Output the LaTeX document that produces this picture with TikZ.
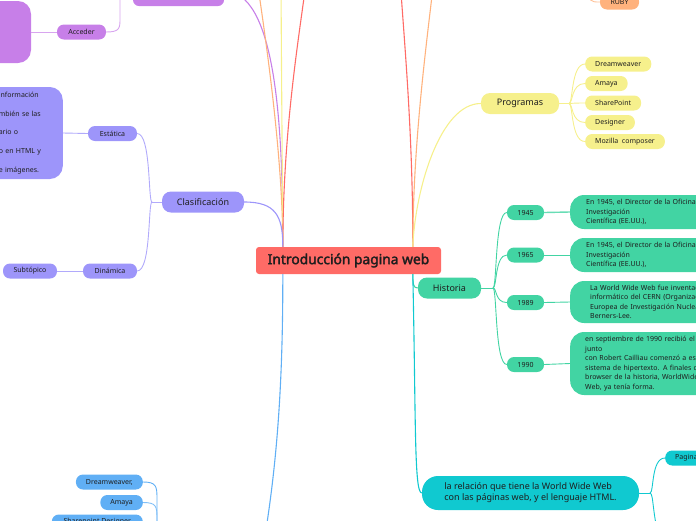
\documentclass[tikz,border=0pt]{standalone}
\usepackage{fontspec}
\setmainfont{Noto Sans}[AutoFakeBold=2.2]
\usetikzlibrary{calc}
\definecolor{cred}{HTML}{FF6B66}
\definecolor{cpur}{HTML}{C77FE8}
\definecolor{cper}{HTML}{9D95FA}
\definecolor{cyel}{HTML}{F6F08C}
\definecolor{cora}{HTML}{FFB27D}
\definecolor{cmint}{HTML}{42D4A3}
\definecolor{ccyan}{HTML}{10C9D0}
\definecolor{cblue}{HTML}{60AFF5}
\definecolor{ctxt}{HTML}{1E1E1E}
\tikzset{
  pill/.style={rounded corners=7pt, minimum height=15pt, inner xsep=10pt, inner ysep=0pt, text=ctxt, font=\fontsize{7}{8}\selectfont},
  bigpill/.style={rounded corners=9pt, minimum height=21pt, inner ysep=0pt, text=ctxt, font=\fontsize{9}{11}\selectfont},
  desc/.style={rounded corners=14pt, anchor=west, inner xsep=16pt, inner ysep=0pt, align=left, text width=200pt, text=ctxt, font=\fontsize{7}{9.5}\selectfont},
  conn/.style={line width=1.1pt},
  sub/.style={line width=0.9pt}
}
\begin{document}
\begin{tikzpicture}[x=1pt,y=-1pt]
\useasboundingbox (0,0) rectangle (696,520);
\clip (0,0) rectangle (696,520);

% central node
\node[fill=cred, rounded corners=3pt, minimum width=185pt, minimum height=27pt, inner sep=0pt,
      font=\fontsize{13.8}{15}\selectfont\bfseries, text=ctxt] (c) at (348.5,260.5) {Introducción pagina web};
\coordinate (ctl) at ($(c.north west)+(27,0)$);
\coordinate (ctr) at ($(c.north west)+(157,0)$);
\coordinate (cbl) at ($(c.south west)+(27,0)$);
\coordinate (cbr) at ($(c.south west)+(157,0)$);

% off-picture ends
\coordinate (oora) at (254,-40);
\coordinate (oyel) at (281,-40);
\coordinate (ored) at (309,-40);
\coordinate (ored2) at (399,-40);
\coordinate (oora2) at (436,-40);
\coordinate (oruby) at (585,-14);
\coordinate (oacc) at (120,-20);
\coordinate (oblue) at (261,560);
\coordinate (bbr) at (157,560);
\coordinate (orel) at (662,545);

% ---------- top left purple ----------
\node[fill=cpur, rounded corners=6pt, minimum width=91pt, minimum height=30pt, inner sep=0pt] (ptop) at (178.5,-9) {};
\node[fill=cpur, rounded corners=13pt, minimum width=70pt, minimum height=62pt, inner sep=0pt] (pbig) at (-4,32) {};
\node[pill, fill=cpur, minimum width=49pt, inner xsep=0pt] (acc) at (81.5,32) {Acceder};
\draw[cpur!70, sub] (pbig.east) -- (acc.west);
\draw[cpur!70, sub] (acc.east) .. controls (120,32) and (120,28) .. (120,18) -- (oacc);
\draw[cpur, conn] (ptop.east) .. controls (275,-9) and (283,120) .. (ctl);

% other top lines
\draw[cora, conn] (ctl) .. controls (283,150) and (263,20) .. (oora);
\draw[cyel, conn] (ctl) .. controls (282,120) and (281,20) .. (oyel);
\draw[cred, conn] (ctl) .. controls (283,120) and (302,20) .. (ored);
\draw[cred, conn] (ctr) .. controls (413,120) and (402,20) .. (ored2);
\draw[cora, conn] (ctr) .. controls (413,130) and (430,20) .. (oora2);

% ---------- RUBY ----------
\node[pill, fill=cora, minimum width=39pt, inner xsep=0pt] (ruby) at (619.5,2) {RUBY};
\draw[cora!80, sub] (oruby) .. controls (590,2) .. (ruby.west);

% ---------- Programas ----------
\node[bigpill, fill=cyel, minimum width=78pt] (prog) at (520,103.5) {Programas};
\draw[cyel, conn] (ctr) .. controls (415,190) and (440,103.5) .. (prog.west);
\coordinate (pb) at (569,103.5);
\node[pill, fill=cyel, anchor=west] (y1) at (585,64) {Dreamweaver};
\node[pill, fill=cyel, anchor=west] (y2) at (585,83.5) {Amaya};
\node[pill, fill=cyel, anchor=west] (y3) at (585,103) {SharePoint};
\node[pill, fill=cyel, anchor=west] (y4) at (585,122.5) {Designer};
\node[pill, fill=cyel, anchor=west] (y5) at (585,141.5) {Mozilla\ \ composer};
\draw[cyel, sub] (prog.east) -- (pb);
\foreach \n in {y1,y2,y3,y4,y5}{
  \draw[cyel, sub] (pb) .. controls ($(pb)+(4,0)$) and ($(\n.west)+(-14,0)$) .. (\n.west);
}

% ---------- Clasificacion ----------
\node[bigpill, fill=cper, minimum width=82pt] (cls) at (203,202) {Clasificación};
\draw[cper, conn] (cls.east) .. controls (275,202) and (283,215) .. (ctl);
\coordinate (cb) at (152,202);
\node[pill, fill=cper, minimum width=49pt, inner xsep=0pt] (est) at (112.5,133.5) {Estática};
\node[pill, fill=cper, minimum width=54pt, inner xsep=0pt] (din) at (110,271) {Dinámica};
\node[pill, fill=cper, minimum width=54pt, inner xsep=0pt] (subt) at (30,271) {Subtópico};
\node[fill=cper, rounded corners=13pt, anchor=east, minimum height=92pt, text width=50pt, inner xsep=14pt,
      inner ysep=0pt, align=left, text=ctxt, font=\fontsize{7}{18.75}\selectfont] (ebig) at (63,133)
      {\raisebox{-1.5pt}{información}\\\raisebox{-1.5pt}{mbién se las}\\\raisebox{-1.5pt}{ario o}\\\raisebox{-1.5pt}{o en HTML y}\\\raisebox{-1.5pt}{e imágenes.}};
\draw[cper!80, sub] (cls.west) -- (cb);
\draw[cper!80, sub] (cb) .. controls ($(cb)+(-4,0)$) and ($(est.east)+(14,0)$) .. (est.east);
\draw[cper!80, sub] (cb) .. controls ($(cb)+(-4,0)$) and ($(din.east)+(14,0)$) .. (din.east);
\draw[cper!80, sub] (est.west) -- (ebig.east);
\draw[cper!80, sub] (din.west) -- (subt.east);

% ---------- blue ----------
\draw[cblue, conn] (cbl) .. controls (283,400) and (275,480) .. (oblue);
\node[pill, fill=cblue, anchor=east] (b1) at (143,482) {Dreamweaver,};
\node[pill, fill=cblue, anchor=east] (b2) at (143,502.5) {Amaya};
\node[pill, fill=cblue, anchor=east, minimum width=91pt, inner xsep=0pt] (b3) at (143,522) {Sharepoint Designer};
\draw[cblue, sub] (b1.east) .. controls (156,482) and (157,486) .. (157,498) -- (bbr);
\draw[cblue!80, sub] (b2.east) .. controls (156,502.5) and (157,506) .. (157,518) -- (bbr);

% ---------- Historia ----------
\node[bigpill, fill=cmint, minimum width=63pt] (hist) at (449.5,288) {Historia};
\draw[cmint, conn] (cbr) .. controls (413,284) and (413,288) .. (hist.west);
\coordinate (hb) at (493,288);
\draw[cmint, sub] (hist.east) -- (hb);
\node[pill, fill=cmint, minimum width=37pt, inner xsep=0pt] (h1) at (525.5,212.5) {1945};
\node[pill, fill=cmint, minimum width=37pt, inner xsep=0pt] (h2) at (525.5,255) {1965};
\node[pill, fill=cmint, minimum width=37pt, inner xsep=0pt] (h3) at (525.5,302.5) {1989};
\node[pill, fill=cmint, minimum width=37pt, inner xsep=0pt] (h4) at (525.5,364.5) {1990};
\foreach \n in {h1,h2,h3,h4}{
  \draw[cmint, sub] (hb) .. controls ($(hb)+(4,0)$) and ($(\n.west)+(-12,0)$) .. (\n.west);
}
\node[desc, fill=cmint, minimum height=34pt] (d1) at (570,212)
  {En 1945, el Director de la Oficina de\\Investigación\\Científica (EE.UU.),};
\node[desc, fill=cmint, minimum height=34pt] (d2) at (570,255)
  {En 1945, el Director de la Oficina de\\Investigación\\Científica (EE.UU.),};
\node[desc, fill=cmint, minimum height=42pt, inner xsep=20pt] (d3) at (570,302)
  {La World Wide Web fue inventada por\\informático del CERN (Organización\\Europea de Investigación Nuclear)\\Berners-Lee.};
\node[desc, fill=cmint, minimum height=63pt, inner xsep=15pt] (d4) at (570,363.5)
  {en septiembre de 1990 recibió el\\junto\\con Robert Cailliau comenzó a escribir\\sistema de hipertexto. A finales de\\browser de la historia, WorldWide\\Web, ya tenía forma.};
\draw[cmint!80, line width=1.4pt] (h1.east) -- (d1.west);
\draw[cmint, sub] (h2.east) -- (d2.west);
\draw[cmint, sub] (h3.east) -- (d3.west);
\draw[cmint, sub] (h4.east) -- (d4.west);

% ---------- relation ----------
\node[fill=ccyan, rounded corners=16pt, minimum width=217pt, minimum height=34pt, inner ysep=0pt,
      align=left, text=ctxt, font=\fontsize{9}{11}\selectfont] (rel) at (530.5,493)
      {la relación que tiene la World Wide Web\\con las páginas web, y el lenguaje HTML.};
\draw[ccyan, conn] (cbr) .. controls (416,420) and (414,493) .. (rel.west);
\coordinate (rb) at (650,493);
\node[pill, fill=ccyan, anchor=west] (pag) at (665,458) {Paginas};
\draw[ccyan, sub] (rel.east) -- (rb);
\draw[ccyan, sub] (rb) .. controls (654,493) and (651,458) .. (pag.west);
\draw[ccyan, sub] (rb) .. controls (654,493) and (652,520) .. (orel);
\end{tikzpicture}
\end{document}
